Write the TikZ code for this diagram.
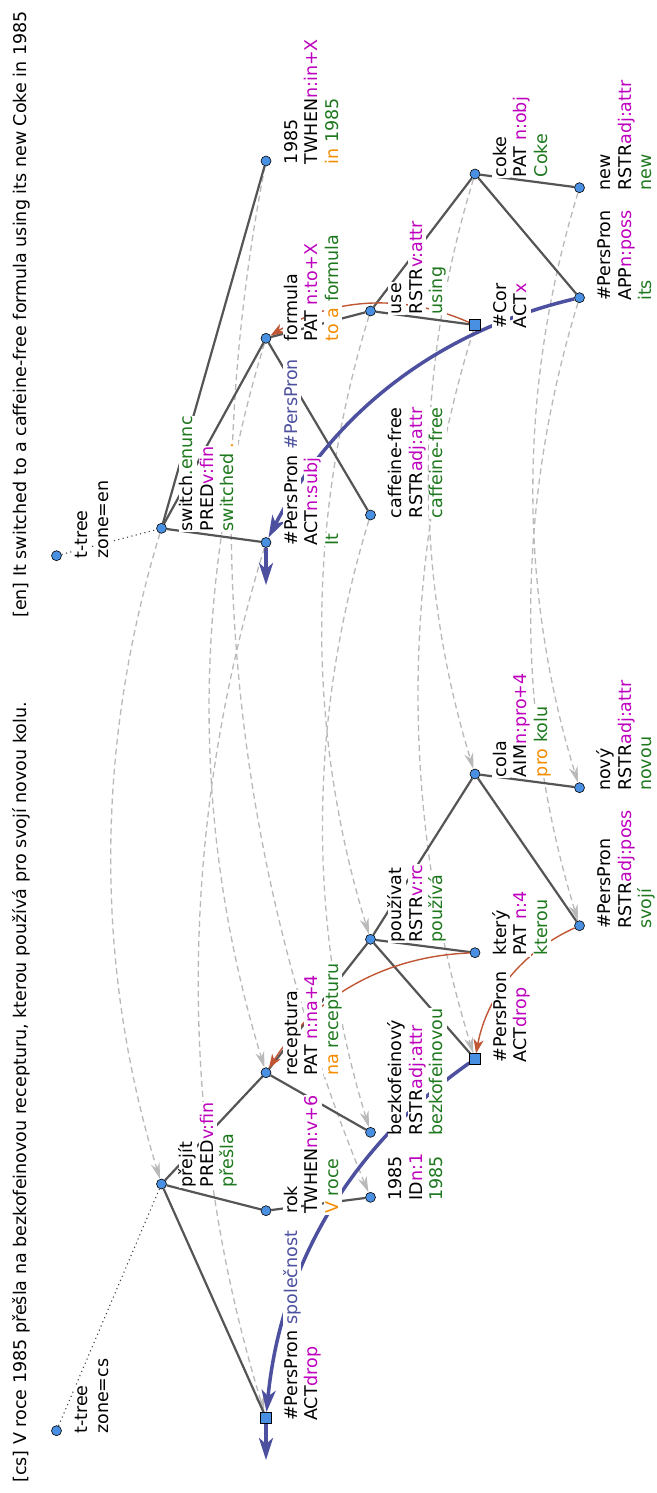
\documentclass[tikz,border=0pt]{standalone}
\usepackage{fontspec}
\setmainfont{DejaVu Sans}
\usetikzlibrary{arrows.meta}
\definecolor{cmag}{RGB}{190,0,190}
\definecolor{cgreen}{RGB}{30,120,30}
\definecolor{corange}{RGB}{245,140,0}
\definecolor{cblue}{RGB}{76,80,159}
\definecolor{cbrown}{RGB}{192,86,51}
\definecolor{cnode}{RGB}{74,144,226}
\definecolor{cedge}{RGB}{85,85,85}
\definecolor{calign}{RGB}{185,185,185}
\newcommand\dfont{\fontsize{17.5}{20.5}\selectfont}
\pgfdeclarelayer{bg}
\pgfdeclarelayer{fg}
\pgfsetlayers{bg,main,fg}
\tikzset{
  tnode/.style={circle, draw=black, line width=0.6pt, fill=cnode, minimum size=10pt, inner sep=0pt},
  tsq/.style={rectangle, draw=black, line width=0.6pt, fill=cnode, minimum size=10.5pt, inner sep=0pt},
  tedge/.style={draw=cedge, line width=2.2pt},
  rootln/.style={draw=black!75, line width=1.1pt, dash pattern=on 1.1pt off 3.4pt},
  alnk/.style={draw=calign, line width=1.3pt, dash pattern=on 6pt off 4pt, -{Stealth[length=16pt,width=9pt,inset=5pt]}},
  cbr/.style={draw=cbrown, line width=1.4pt, -{Stealth[length=14pt,width=10pt,inset=4pt]}},
  cbl/.style={draw=cblue, line width=3.5pt, -{Stealth[length=22pt,width=14pt,inset=6pt]}},
  lbl/.style={rotate=90, anchor=base west, fill=white, inner sep=0.7pt, text height=13.2pt, text depth=3.6pt, font=\dfont},
  ttl/.style={rotate=90, anchor=base west, inner sep=0pt, font=\dfont}
}
% three-line and two-line node labels: name, node x, node y, lines
\newcommand\labthree[6]{%
  \node[lbl] (#1a) at (#2+31,#3+4) {#4};
  \node[lbl] (#1b) at (#2+51.5,#3+4) {#5};
  \node[lbl] (#1c) at (#2+72,#3+4) {#6};}
\newcommand\labtwo[5]{%
  \node[lbl] (#1a) at (#2+31,#3+4) {#4};
  \node[lbl] (#1b) at (#2+51.5,#3+4) {#5};}
\begin{document}
\begin{tikzpicture}[x=1pt,y=-1pt]
\useasboundingbox (0,0) rectangle (656,1493);
\begin{pgfonlayer}{bg}
\fill[white] (0,0) rectangle (656,1493);
\end{pgfonlayer}
% titles
\node[ttl] (Tcs) at (27,1483) {[cs] V roce 1985 přešla na bezkofeinovou recepturu, kterou používá pro svojí novou kolu.};
\node[ttl] (Ten) at (27,618) {[en] It switched to a caffeine-free formula using its new Coke in 1985};
% English tree nodes
\node[tnode] (enroot) at (56.5,555.7) {};
\node[tnode] (sw) at (161.5,528.3) {};
\node[tnode] (it) at (266,542.5) {};
\node[tnode] (fo) at (266,338.3) {};
\node[tnode] (ey) at (266,161) {};
\node[tnode] (cf) at (370.5,515) {};
\node[tnode] (us) at (370.5,311) {};
\node[tsq] (cor) at (475,325) {};
\node[tnode] (co) at (475,174) {};
\node[tnode] (its) at (579.5,297.7) {};
\node[tnode] (nw) at (579.5,187.7) {};
% Czech tree nodes
\node[tnode] (csroot) at (56.5,1430.7) {};
\node[tnode] (pr) at (161.5,1184) {};
\node[tsq] (dr) at (266,1417.7) {};
\node[tnode] (rk) at (266,1210.7) {};
\node[tnode] (rc) at (266,1072.7) {};
\node[tnode] (cy) at (370.5,1197.3) {};
\node[tnode] (bz) at (370.5,1132.3) {};
\node[tnode] (po) at (370.5,939.3) {};
\node[tsq] (dq) at (475,1059) {};
\node[tnode] (kt) at (475,952.7) {};
\node[tnode] (cl) at (475,774) {};
\node[tnode] (sv) at (579.5,925.7) {};
\node[tnode] (nv) at (579.5,787.7) {};
\coordinate (itx) at (266,585);
\coordinate (drx) at (266,1460);
\begin{pgfonlayer}{bg}
% alignment links
\draw[alnk] (sw) .. controls (94.8,746.9) and (94.8,965.5) .. (pr);
\draw[alnk] (it) .. controls (176.7,834.2) and (176.7,1126) .. (dr);
\draw[alnk] (fo) .. controls (191.1,583.1) and (191.1,827.9) .. (rc);
\draw[alnk] (ey) .. controls (197,517.2) and (232,862.6) .. (cy);
\draw[alnk] (cf) .. controls (307.5,720.9) and (307.5,926.6) .. (bz);
\draw[alnk] (us) .. controls (306.4,520.5) and (306.4,729.9) .. (po);
\draw[alnk] (cor) .. controls (400.1,569.7) and (400.1,814.3) .. (dq);
\draw[alnk] (co) .. controls (413.8,374) and (413.8,574) .. (cl);
\draw[alnk] (its) .. controls (515.4,507.1) and (515.4,716.4) .. (sv);
\draw[alnk] (nw) .. controls (518.3,387.7) and (518.3,587.7) .. (nv);
% root links
\draw[rootln] (enroot) -- (sw);
\draw[rootln] (csroot) -- (pr);
% tree edges
\draw[tedge] (sw) -- (it);
\draw[tedge] (sw) -- (fo);
\draw[tedge] (sw) -- (ey);
\draw[tedge] (fo) -- (cf);
\draw[tedge] (fo) -- (us);
\draw[tedge] (us) -- (cor);
\draw[tedge] (us) -- (co);
\draw[tedge] (co) -- (its);
\draw[tedge] (co) -- (nw);
\draw[tedge] (pr) -- (dr);
\draw[tedge] (pr) -- (rk);
\draw[tedge] (pr) -- (rc);
\draw[tedge] (rk) -- (cy);
\draw[tedge] (rc) -- (bz);
\draw[tedge] (rc) -- (po);
\draw[tedge] (po) -- (dq);
\draw[tedge] (po) -- (kt);
\draw[tedge] (po) -- (cl);
\draw[tedge] (cl) -- (sv);
\draw[tedge] (cl) -- (nv);
% coreference
\draw[cbr] (cor) .. controls (402.9,293.1) and (333.3,297.6) .. (fo);
\draw[cbr] (kt) .. controls (384.5,956.4) and (314.8,996.4) .. (rc);
\draw[cbr] (sv) .. controls (521.6,952) and (486.7,996.5) .. (dq);
\draw[cbl] (its) .. controls (437.5,331.2) and (333,412.8) .. (it);
\draw[cbl] (dq) .. controls (350.3,1146.5) and (280.7,1266.1) .. (dr);
\draw[cbl] (it) -- (itx);
\draw[cbl] (dr) -- (drx);
\end{pgfonlayer}
\begin{pgfonlayer}{fg}
% English labels
\labtwo{Lenroot}{56.5}{555.7}{t-tree}{zone=en}
\labthree{Lsw}{161.5}{528.3}{switch\textcolor{cgreen}{.enunc}}{PRED\textcolor{cmag}{v:fin}}{\textcolor{cgreen}{switched} \textcolor{corange}{.}}
\labthree{Lit}{266}{542.5}{\#PersPron \textcolor{cblue}{\#PersPron}}{ACT\textcolor{cmag}{n:subj}}{\textcolor{cgreen}{It}}
\labthree{Lfo}{266}{338.3}{formula}{PAT \textcolor{cmag}{n:to+X}}{\textcolor{corange}{to a} \textcolor{cgreen}{formula}}
\labthree{Ley}{266}{161}{1985}{TWHEN\textcolor{cmag}{n:in+X}}{\textcolor{corange}{in} \textcolor{cgreen}{1985}}
\labthree{Lcf}{370.5}{515}{caffeine-free}{RSTR\textcolor{cmag}{adj:attr}}{\textcolor{cgreen}{caffeine-free}}
\labthree{Lus}{370.5}{311}{use}{RSTR\textcolor{cmag}{v:attr}}{\textcolor{cgreen}{using}}
\labtwo{Lcor}{475}{325}{\#Cor}{ACT\textcolor{cmag}{x}}
\labthree{Lco}{475}{174}{coke}{PAT \textcolor{cmag}{n:obj}}{\textcolor{cgreen}{Coke}}
\labthree{Lits}{579.5}{297.7}{\#PersPron}{APP\textcolor{cmag}{n:poss}}{\textcolor{cgreen}{its}}
\labthree{Lnw}{579.5}{187.7}{new}{RSTR\textcolor{cmag}{adj:attr}}{\textcolor{cgreen}{new}}
% Czech labels
\labtwo{Lcsroot}{56.5}{1430.7}{t-tree}{zone=cs}
\labthree{Lpr}{161.5}{1184}{přejít}{PRED\textcolor{cmag}{v:fin}}{\textcolor{cgreen}{přešla}}
\labtwo{Ldr}{266}{1417.7}{\#PersPron \textcolor{cblue}{společnost}}{ACT\textcolor{cmag}{drop}}
\labthree{Lrk}{266}{1210.7}{rok}{TWHEN\textcolor{cmag}{n:v+6}}{\textcolor{corange}{V} \textcolor{cgreen}{roce}}
\labthree{Lrc}{266}{1072.7}{receptura}{PAT \textcolor{cmag}{n:na+4}}{\textcolor{corange}{na} \textcolor{cgreen}{recepturu}}
\labthree{Lcy}{370.5}{1197.3}{1985}{ID\textcolor{cmag}{n:1}}{\textcolor{cgreen}{1985}}
\labthree{Lbz}{370.5}{1132.3}{bezkofeinový}{RSTR\textcolor{cmag}{adj:attr}}{\textcolor{cgreen}{bezkofeinovou}}
\labthree{Lpo}{370.5}{939.3}{používat}{RSTR\textcolor{cmag}{v:rc}}{\textcolor{cgreen}{používá}}
\labtwo{Ldq}{475}{1059}{\#PersPron}{ACT\textcolor{cmag}{drop}}
\labthree{Lkt}{475}{952.7}{který}{PAT \textcolor{cmag}{n:4}}{\textcolor{cgreen}{kterou}}
\labthree{Lcl}{475}{774}{cola}{AIM\textcolor{cmag}{n:pro+4}}{\textcolor{corange}{pro} \textcolor{cgreen}{kolu}}
\labthree{Lsv}{579.5}{925.7}{\#PersPron}{RSTR\textcolor{cmag}{adj:poss}}{\textcolor{cgreen}{svojí}}
\labthree{Lnv}{579.5}{787.7}{nový}{RSTR\textcolor{cmag}{adj:attr}}{\textcolor{cgreen}{novou}}
\end{pgfonlayer}
\end{tikzpicture}
\end{document}
